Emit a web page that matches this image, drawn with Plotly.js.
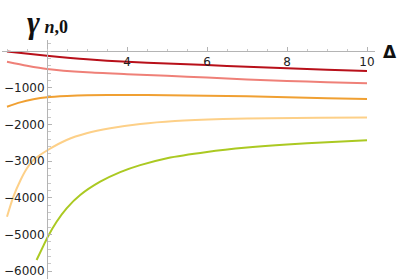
<!DOCTYPE html>
<html>
<head>
<meta charset="utf-8">
<script src="https://cdn.plot.ly/plotly-3.0.1.min.js"></script>
<style>html,body{margin:0;padding:0;background:#fff;}#chart{width:402px;height:279px;}</style>
</head>
<body>
<div id="chart"></div>
<script>
const deltaA = [1, 2, 3, 4, 5, 6, 7, 8, 9, 10];
const gammaA = [-15, -128, -226, -295, -340, -381, -430, -472, -510, -545];
const deltaB = [1, 1.5, 2, 3, 4, 5, 6, 7, 8, 9, 10];
const gammaB = [-291, -400, -490, -581, -630, -675, -725, -775, -815, -850, -881];
const deltaC = [1, 1.33, 1.66, 2, 2.5, 3, 4, 5, 6, 7, 8, 9, 10];
const gammaC = [-1517, -1399, -1317, -1262, -1228, -1208, -1199, -1205, -1217, -1235, -1262, -1285, -1308];
const deltaD = [1, 1.16, 1.34, 1.5, 1.66, 2.02, 2.49, 2.99, 3.58, 4.33, 5.2, 6.4, 7.6, 8.8, 10];
const gammaD = [-4515, -3970, -3515, -3196, -2970, -2698, -2425, -2243, -2106, -1989, -1907, -1853, -1830, -1822, -1815];
const deltaE = [1.74, 1.9, 2.02, 2.24, 2.49, 2.83, 3.33, 3.83, 4.33, 5, 6, 7, 8, 9, 10];
const gammaE = [-5695, -5332, -5060, -4651, -4286, -3924, -3561, -3300, -3110, -2920, -2750, -2630, -2545, -2485, -2433];
const xTicks = [4, 6, 8, 10];
const yTicks = [-1000, -2000, -3000, -4000, -5000, -6000];
const yTickText = ["\u22121000", "\u22122000", "\u22123000", "\u22124000", "\u22125000", "\u22126000"];

const colors = ["#b8101a", "#ef8078", "#f0a032", "#fdd088", "#abc922"];
const series = [[deltaA, gammaA], [deltaB, gammaB], [deltaC, gammaC], [deltaD, gammaD], [deltaE, gammaE]];
const traces = series.map((s, i) => ({
  x: s[0], y: s[1], type: 'scatter', mode: 'lines',
  line: {color: colors[i], width: 2, shape: 'spline', smoothing: 0.7},
  hoverinfo: 'skip'
}));

const W = 373, H = 239, L = 2, T = 40;
const px = v => (v - L) / W;
const py = v => (T + H - v) / H;

const layout = {
  width: 402, height: 279,
  margin: {l: L, r: 27, t: T, b: 0},
  paper_bgcolor: '#fff', plot_bgcolor: '#fff',
  showlegend: false,
  font: {family: 'DejaVu Sans, sans-serif', color: '#222'},
  title: {
    text: "<b><i>\u03b3</i></b><span style='font-size:18px'> <b><i>n</i>,0</b></span>",
    xref: 'container', yref: 'container', x: 27/402, y: 1 - 22/279,
    xanchor: 'left', yanchor: 'middle',
    font: {family: 'Liberation Serif, DejaVu Serif, serif', size: 31, color: '#111'}
  },
  xaxis: {
    range: [0.875, 10.2], anchor: 'free', position: (279 - 51) / 239,
    showgrid: false, zeroline: false,
    showline: true, linecolor: '#b4b4b4', linewidth: 1,
    ticks: 'inside', ticklen: 4, tickcolor: '#b4b4b4', tickwidth: 1,
    tickvals: xTicks, ticktext: xTicks.map(String),
    tickfont: {size: 12, color: '#222'},
    minor: {ticks: 'inside', dtick: 0.5, tick0: 0, ticklen: 2.5, tickcolor: '#c8c8c8', showgrid: false}
  },
  yaxis: {
    range: [-6213, 300], anchor: 'free', position: 45 / 373,
    showgrid: false, zeroline: false,
    showline: true, linecolor: '#b4b4b4', linewidth: 1,
    ticks: 'inside', ticklen: 4, tickcolor: '#b4b4b4', tickwidth: 1,
    tickvals: yTicks, ticktext: yTickText,
    tickfont: {size: 12, color: '#222'},
    minor: {ticks: 'inside', dtick: 200, tick0: 0, ticklen: 2.5, tickcolor: '#c8c8c8', showgrid: false}
  },
  annotations: [
    {xref: 'paper', yref: 'paper', x: px(390), y: py(52), xanchor: 'center', yanchor: 'middle', showarrow: false,
     text: "<b>\u0394</b>",
     font: {family: 'DejaVu Sans, sans-serif', size: 17, color: '#111'}}
  ]
};

Plotly.newPlot('chart', traces, layout, {staticPlot: true, displayModeBar: false});
</script>
</body>
</html>
